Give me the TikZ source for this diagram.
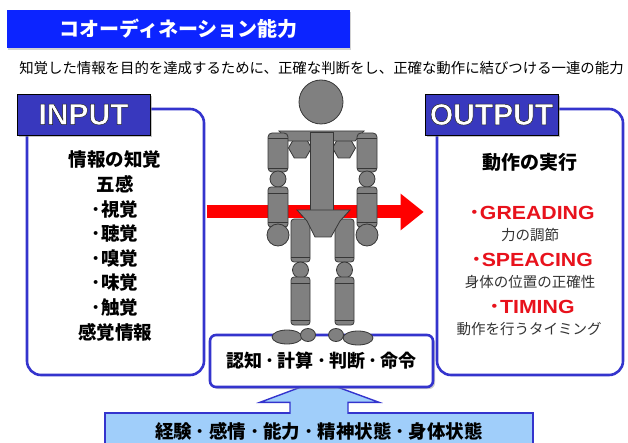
\documentclass[tikz,border=0pt]{standalone}
\usepackage{graphicx}
\usepackage{fontspec}
\setmainfont{Noto Sans CJK JP}
\newfontfamily\latfont{Liberation Sans}
\newfontfamily\tagfont{Liberation Sans}[BoldFeatures={FakeBold=1.6}]
\usetikzlibrary{arrows.meta, positioning, shapes.geometric, shadows}

\definecolor{titleblue}{RGB}{12,36,255}
\definecolor{boxblue}{RGB}{52,52,205}
\definecolor{tagblue}{RGB}{56,56,190}
\definecolor{basefill}{RGB}{160,206,250}
\definecolor{robogray}{RGB}{128,128,128}
\definecolor{robodark}{RGB}{55,55,55}
\definecolor{skillred}{RGB}{232,18,28}

\newcommand{\skillname}[1]{\scalebox{1.12}[1]{･{\latfont\bfseries #1}}}
\newcommand{\sep}[1]{\hspace{#1}･\hspace{#1}}
% white letters stroked in dark grey
\newcommand{\tagword}[1]{\special{pdf:code 0.12 0.12 0.12 RG}#1}

\begin{document}
\begin{tikzpicture}[x=1pt, y=-1pt,
    panel/.style={rectangle, draw=boxblue, line width=2.6pt, rounded corners=14pt, fill=white, inner sep=0pt},
    tag/.style={rectangle, draw=black, line width=0.8pt, fill=tagblue, minimum width=133pt, minimum height=41pt, inner sep=0pt,
        drop shadow={shadow xshift=2pt, shadow yshift=-2pt, fill=black!45},
        text=white, font=\tagfont\bfseries\fontsize{30}{30}\selectfont},
    listtxt/.style={align=center, font=\bfseries\fontsize{18.5}{24.6}\selectfont, inner sep=0pt},
    skill/.style={text=skillred, font=\bfseries\fontsize{19}{19}\selectfont, inner sep=0pt},
    note/.style={text=black!80, font=\fontsize{14.5}{14.5}\selectfont, inner sep=0pt},
    flow/.style={-{Triangle[length=23pt, width=35pt]}, line width=13pt, draw=red},
    upflow/.style={fill=basefill, draw=boxblue, line width=1.4pt},
    part/.style={fill=robogray, draw=robodark, line width=0.8pt},
]
    \useasboundingbox (0,0) rectangle (628,443);

    % Title bar and lead sentence
    \node[fill=titleblue, minimum width=343pt, minimum height=38pt, inner sep=0pt, text=white,
          font=\bfseries\fontsize{20}{20}\selectfont,
          drop shadow={shadow xshift=1pt, shadow yshift=-2pt, fill=black!35}] (title) at (178.5,29) {コオーディネーション能力};
    \node[font=\fontsize{14.4}{14.4}\selectfont, inner sep=0pt] (lead) at (321.5,68)
        {知覚した情報を目的を達成するために、正確な判断をし、正確な動作に結びつける一連の能力};

    % Input and output panels
    \node[panel, minimum width=177pt, minimum height=266pt] (inbox) at (115.5,242) {};
    \node[panel, minimum width=186pt, minimum height=266pt] (outbox) at (530,242) {};

    % Panel tags
    \node[tag] (intag) at (83.5,114.5) {\tagword{INPUT}};
    \node[tag] (outtag) at (491.5,114.5) {\tagword{OUTPUT}};

    % Input list
    \node[listtxt] (inlist) at (115,246)
        {情報の知覚\\五感\\･視覚\\･聴覚\\･嗅覚\\･味覚\\･触覚\\感覚情報};

    % Output list
    \node[font=\bfseries\fontsize{19}{19}\selectfont, inner sep=0pt] (doing) at (530,162) {動作の実行};
    \node[skill] (grade) at (532,213) {\skillname{GREADING}};
    \node[note] (gradenote) at (530,235) {力の調節};
    \node[skill] (space) at (532,260) {\skillname{SPEACING}};
    \node[note] (spacenote) at (530,282) {身体の位置の正確性};
    \node[skill] (timing) at (532,307) {\skillname{TIMING}};
    \node[note] (timingnote) at (529,329) {動作を行うタイミング};

    % Red flow from input to output
    \draw[flow] ([xshift=1.3pt, yshift=30pt]inbox.east) -- ([xshift=-12pt, yshift=30pt]outbox.west);

    % Base box with upward arrow into the core box
    \node[rectangle, fill=basefill, draw=boxblue, line width=1.4pt, minimum width=428pt, minimum height=36pt,
          inner sep=0pt, font=\bfseries\fontsize{18.5}{18.5}\selectfont] (base) at (319,431)
        {経験\sep{4pt}感情\sep{4pt}能力\sep{4pt}精神状態\sep{4pt}身体状態};
    \draw[upflow] ([xshift=-29pt, yshift=-1.5pt]base.north) -- ++(0,-11.5) -- ++(-30,0)
        -- ([yshift=32pt]base.north) -- ([xshift=60pt, yshift=10pt]base.north) -- ++(-31,0)
        -- ([xshift=29pt, yshift=-1.5pt]base.north);
    \node[panel, rounded corners=6pt, minimum width=223pt, minimum height=52pt,
          font=\bfseries\fontsize{18}{18}\selectfont,
          drop shadow={shadow xshift=2pt, shadow yshift=-2pt, fill=black!40}] (core) at (321.5,361)
        {認知\sep{3.3pt}計算\sep{3.3pt}判断\sep{3.3pt}命令};

    % Robot: head, shoulders, chest
    \draw[part] (321,102) circle (22);
    \node[regular polygon, regular polygon sides=6, minimum size=23pt, inner sep=0pt, part] (lhex) at (300,148) {};
    \node[regular polygon, regular polygon sides=6, minimum size=23pt, inner sep=0pt, part] (rhex) at (344,148) {};
    \draw[part] (279,131) -- (364,131) -- (355,141) -- (288,141) -- cycle;
    \draw[part] (310,132) rectangle (333,213);

    % Robot: arms
    \foreach \ax in {268, 357} {
        \draw[part, rounded corners=4] (\ax,133) rectangle (\ax+20,172);
        \draw[robodark, line width=0.7pt] (\ax,138) -- (\ax+20,138) (\ax,168) -- (\ax+20,168);
        \draw[part] (\ax+10,179) circle (8);
        \draw[part, rounded corners=3] (\ax,187) rectangle (\ax+20,227);
        \draw[robodark, line width=0.7pt] (\ax,193) -- (\ax+20,193) (\ax,222) -- (\ax+20,222);
        \draw[part] (\ax+10,235) circle (11);
    }

    % Robot: legs
    \foreach \lx in {291, 335} {
        \draw[part, rounded corners=3] (\lx,219) rectangle (\lx+19,262);
        \draw[robodark, line width=0.7pt] (\lx,257) -- (\lx+19,257);
        \draw[part] (\lx+9.5,270) circle (8);
        \draw[part, rounded corners=3] (\lx,277) rectangle (\lx+19,325);
        \draw[robodark, line width=0.7pt] (\lx,283) -- (\lx+19,283) (\lx,320) -- (\lx+19,320);
    }
    \draw[part] (297,210) -- (350,210) -- (340,221) -- (331,237) -- (315,237) -- (307,221) -- cycle;

    % Robot: feet
    \draw[part] (287,337) ellipse (15 and 7);
    \draw[part] (308,335) ellipse (7.5 and 6.5);
    \draw[part] (336,335) ellipse (7.5 and 6.5);
    \draw[part] (358,338) ellipse (15 and 7);
\end{tikzpicture}
\end{document}
